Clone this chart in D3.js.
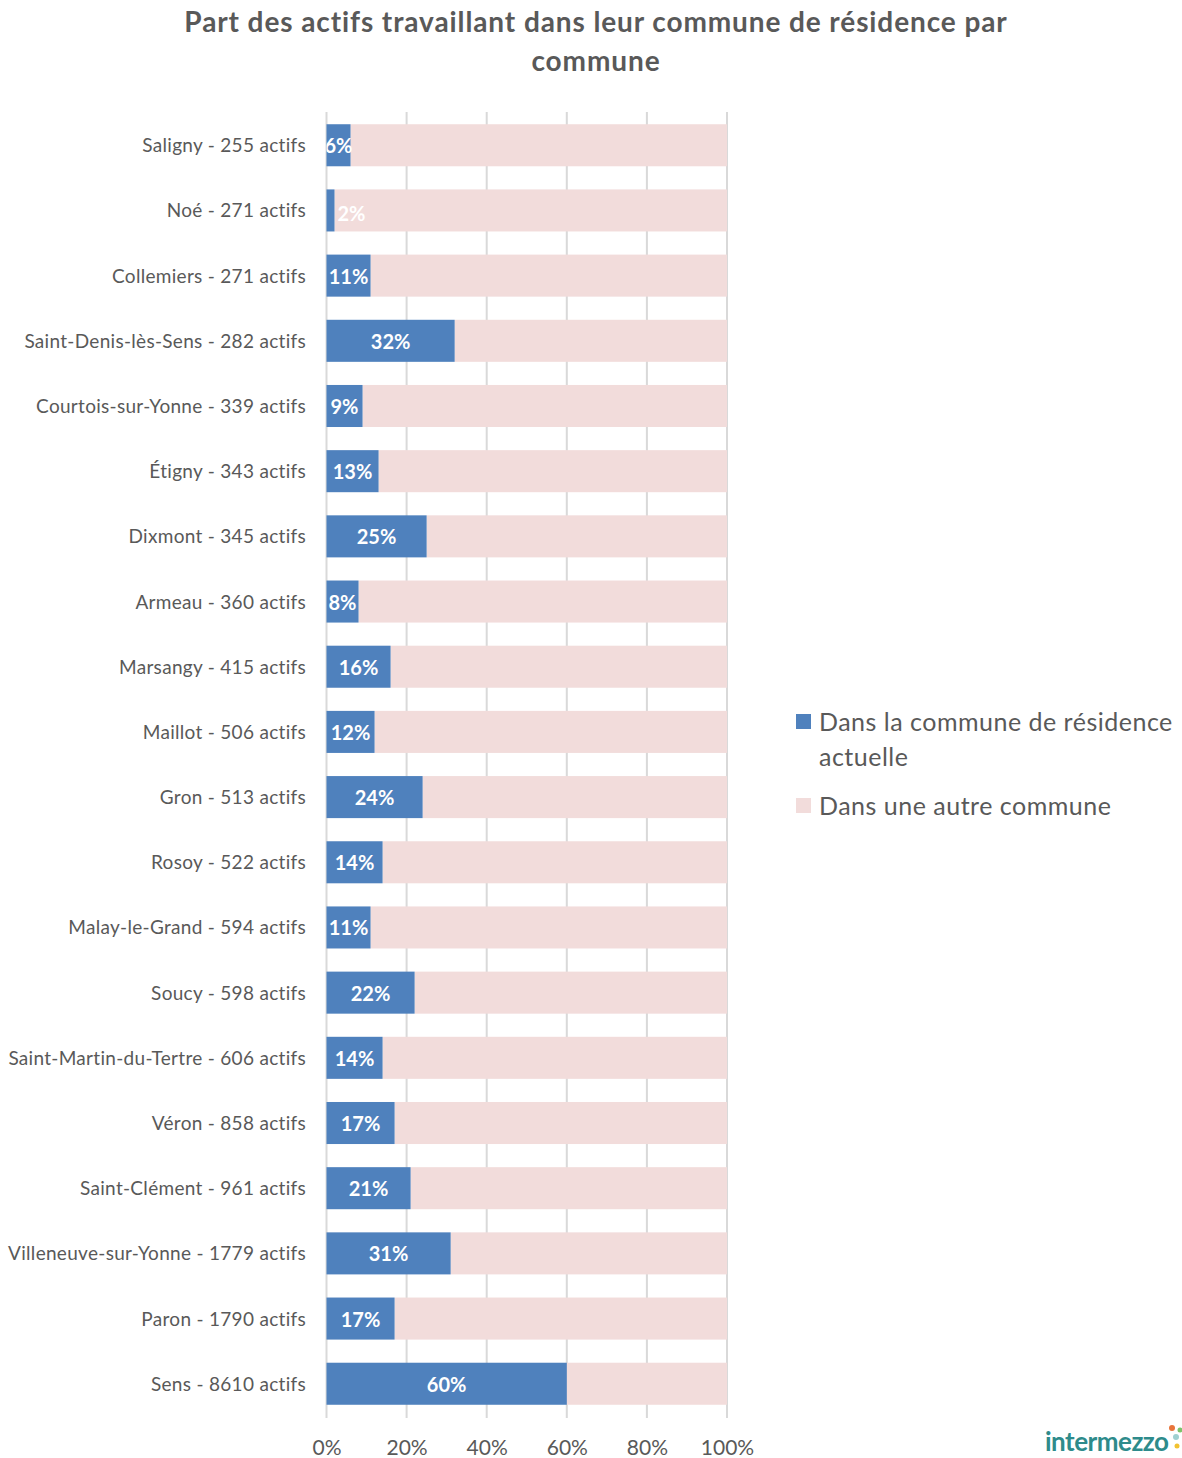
<!DOCTYPE html>
<html><head><meta charset="utf-8">
<script src="https://cdn.jsdelivr.net/npm/d3@7"></script>
<style>body{margin:0;background:#fff}svg{display:block}</style>
</head><body>
<script>
const categories = ["Saligny - 255 actifs","Noé - 271 actifs","Collemiers - 271 actifs","Saint-Denis-lès-Sens - 282 actifs","Courtois-sur-Yonne - 339 actifs","Étigny - 343 actifs","Dixmont - 345 actifs","Armeau - 360 actifs","Marsangy - 415 actifs","Maillot - 506 actifs","Gron - 513 actifs","Rosoy - 522 actifs","Malay-le-Grand - 594 actifs","Soucy - 598 actifs","Saint-Martin-du-Tertre - 606 actifs","Véron - 858 actifs","Saint-Clément - 961 actifs","Villeneuve-sur-Yonne - 1779 actifs","Paron - 1790 actifs","Sens - 8610 actifs"];
const dansCommune = [6,2,11,32,9,13,25,8,16,12,24,14,11,22,14,17,21,31,17,60];
const autreCommune = [94,98,89,68,91,87,75,92,84,88,76,86,89,78,86,83,79,69,83,40];
const seriesNames = ["Dans la commune de résidence actuelle","Dans une autre commune"];
const tickValues = [0,20,40,60,80,100];
const title = ["Part des actifs travaillant dans leur commune de résidence par","commune"];

const W=1182,H=1458;
const font="Lato, 'Open Sans', sans-serif";
const gray="#595959";
const colors=["#4F81BD","#F2DCDB"];
const svg=d3.select("body").append("svg").attr("width",W).attr("height",H);

const x=d3.scaleLinear().domain([0,100]).range([326.5,727]);
const y=d3.scaleBand().domain(categories).range([112.5,1416.5]).paddingInner(0.355).paddingOuter(0.18);

// title
svg.append("g").selectAll("text").data(title).join("text")
  .attr("x",596).attr("y",(d,i)=>32+i*39).attr("text-anchor","middle")
  .attr("font-family",font).attr("font-weight","bold").attr("font-size",28).attr("letter-spacing",0.9)
  .attr("fill",gray).text(d=>d);

// gridlines
svg.append("g").selectAll("line").data(tickValues).join("line")
  .attr("x1",d=>x(d)).attr("x2",d=>x(d)).attr("y1",112).attr("y2",1418)
  .attr("stroke","#D9D9D9").attr("stroke-width",2);

const stacked = categories.map((c,i)=>({c,a:dansCommune[i],b:autreCommune[i]}));

svg.append("defs").append("clipPath").attr("id","plot").append("rect")
  .attr("x",x(0)).attr("y",100).attr("width",x(100)-x(0)+2).attr("height",1330);

const g=svg.append("g");
g.selectAll("rect.b").data(stacked).join("rect").attr("class","b")
  .attr("x",d=>x(d.a)).attr("width",d=>x(d.a+d.b)-x(d.a))
  .attr("y",d=>y(d.c)).attr("height",y.bandwidth()).attr("fill",colors[1]);
g.selectAll("rect.a").data(stacked).join("rect").attr("class","a")
  .attr("x",x(0)).attr("width",d=>x(d.a)-x(0))
  .attr("y",d=>y(d.c)).attr("height",y.bandwidth()).attr("fill",colors[0]);

// value labels
svg.append("g").attr("clip-path","url(#plot)").selectAll("text").data(stacked).join("text")
  .attr("x",d=>{const w=x(d.a)-x(0); return w<10 ? x(d.a)+17 : (x(0)+x(d.a))/2;})
  .attr("y",d=>y(d.c)+y.bandwidth()/2+(x(d.a)-x(0)<10?11:8))
  .attr("text-anchor","middle").attr("font-family",font).attr("font-weight","bold")
  .attr("font-size",20).attr("fill","#fff").text(d=>d.a+"%");

// category axis labels
svg.append("g").selectAll("text").data(categories).join("text")
  .attr("x",306).attr("y",d=>y(d)+y.bandwidth()/2+7).attr("text-anchor","end")
  .attr("font-family",font).attr("font-size",19).attr("letter-spacing",0.3).attr("fill",gray).text(d=>d);

// x axis
const xa=svg.append("g").attr("transform","translate(0,1418)")
  .call(d3.axisBottom(x).tickValues(tickValues).tickFormat(d=>d+"%").tickSize(0).tickPadding(22));
xa.select(".domain").remove();
xa.selectAll("text").attr("font-family",font).attr("font-size",21).attr("fill",gray);

// legend
const lg=svg.append("g").attr("font-family",font).attr("font-size",25).attr("letter-spacing",0.5).attr("fill",gray);
lg.append("rect").attr("x",796).attr("y",714).attr("width",15).attr("height",15).attr("fill",colors[0]);
lg.append("text").attr("x",819).attr("y",731).text("Dans la commune de résidence");
lg.append("text").attr("x",819).attr("y",766).text("actuelle");
lg.append("rect").attr("x",796).attr("y",798).attr("width",15).attr("height",15).attr("fill",colors[1]);
lg.append("text").attr("x",819).attr("y",815).text(seriesNames[1]);

// logo
const lo=svg.append("g");
lo.append("text").attr("x",1045).attr("y",1451).attr("font-family",font).attr("font-weight","bold")
  .attr("font-size",26).attr("letter-spacing",-0.5).attr("fill","#2E8B8B").text("intermezzo");
lo.append("circle").attr("cx",1172).attr("cy",1428).attr("r",3).attr("fill","#E8743B");
lo.append("circle").attr("cx",1180).attr("cy",1430).attr("r",2.5).attr("fill","#7DC36B");
lo.append("circle").attr("cx",1176).attr("cy",1437).attr("r",3).attr("fill","#9FD0D0");
lo.append("circle").attr("cx",1177).attr("cy",1446).attr("r",2.5).attr("fill","#F2C230");
</script>
</body></html>
